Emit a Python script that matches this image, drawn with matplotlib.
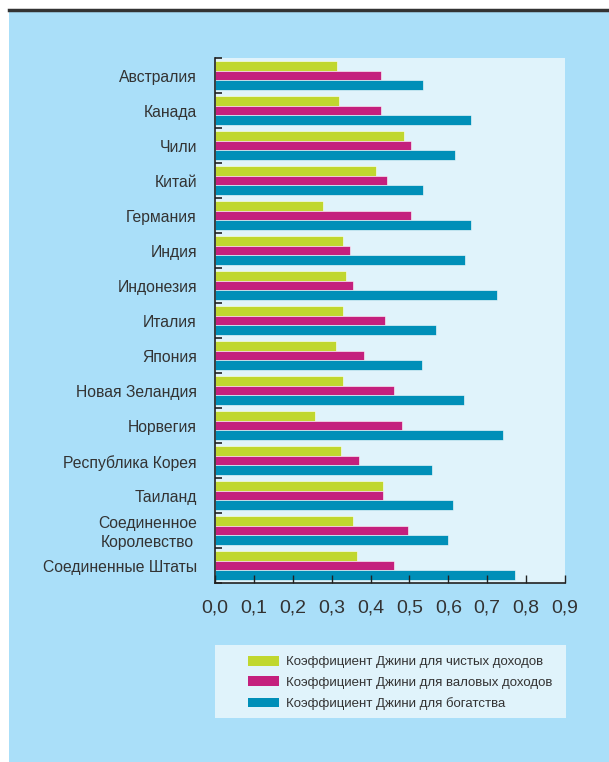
import numpy as np
import matplotlib.pyplot as plt
from matplotlib.patches import Rectangle, Patch
from matplotlib.lines import Line2D

plt.rcParams['font.family'] = ['Liberation Sans', 'DejaVu Sans']

countries = ['Австралия', 'Канада', 'Чили', 'Китай', 'Германия', 'Индия',
             'Индонезия', 'Италия', 'Япония', 'Новая Зеландия', 'Норвегия',
             'Республика Корея', 'Таиланд', 'Соединенное\nКоролевство',
             'Соединенные Штаты']
net_income = [0.314, 0.320, 0.486, 0.414, 0.278, 0.328, 0.337, 0.328, 0.310,
              0.328, 0.256, 0.324, 0.432, 0.356, 0.364]
gross_income = [0.428, 0.428, 0.505, 0.441, 0.505, 0.346, 0.356, 0.436, 0.382,
                0.460, 0.482, 0.369, 0.432, 0.496, 0.460]
wealth = [0.536, 0.658, 0.618, 0.536, 0.658, 0.644, 0.726, 0.568, 0.532,
          0.641, 0.740, 0.558, 0.612, 0.600, 0.771]
series_names = ['Коэффициент Джини для чистых доходов',
                'Коэффициент Джини для валовых доходов',
                'Коэффициент Джини для богатства']
xticks = np.arange(0, 0.91, 0.1)
xtick_labels = ['{:.1f}'.format(t).replace('.', ',') for t in xticks]

colors = ['#c0d72f', '#c4207d', '#008fb8']
outer_bg = '#aadff9'
inner_bg = '#e0f3fb'
text_col = '#333333'

fig = plt.figure(figsize=(6.09, 7.62), dpi=100)
fig.patch.set_facecolor('white')
fig.add_artist(Rectangle((9 / 609, 0), 1, 1 - 11 / 762, transform=fig.transFigure,
                         facecolor=outer_bg, edgecolor='none', zorder=-2))
fig.add_artist(Line2D([9 / 609, 1], [1 - 10 / 762, 1 - 10 / 762], transform=fig.transFigure,
                      color='#333333', lw=2.5))

ax = fig.add_axes([215 / 609, 1 - 583 / 762, 350 / 609, 525 / 762])
ax.set_facecolor(inner_bg)

y = np.arange(len(countries))
h = 0.285
for i, vals in enumerate([net_income, gross_income, wealth]):
    ax.barh(y + (i - 1) * h, vals, height=h, color=colors[i],
            edgecolor='white', linewidth=0.4, label=series_names[i])

ax.set_xlim(0, 0.9)
ax.set_ylim(len(countries) - 0.5, -0.5)
# labels sit a little below the group centre in the original
ax.set_yticks(y + 0.07)
ax.set_yticklabels(countries, fontsize=11.3, color=text_col, ha='right',
                   va='center', multialignment='center', linespacing=1.4)
ax.tick_params(axis='y', which='major', length=0, pad=13)
ax.set_yticks(np.arange(-0.5, len(countries), 1), minor=True)
ax.tick_params(axis='y', which='minor', direction='in', length=5, width=1.2, color='#222222')
ax.set_xticks(xticks)
ax.set_xticklabels(xtick_labels, fontsize=14, color=text_col)
ax.tick_params(axis='x', direction='in', length=6, width=1, color='#222222', pad=12)

for s in ['top', 'right']:
    ax.spines[s].set_visible(False)
for s in ['left', 'bottom']:
    ax.spines[s].set_color('#222222')
    ax.spines[s].set_linewidth(1.2)

handles = [Patch(facecolor=c) for c in colors]
leg_ax = fig.add_axes([215 / 609, 1 - 718 / 762, 351 / 609, 73 / 762])
leg_ax.set_facecolor(inner_bg)
leg_ax.set_xticks([])
leg_ax.set_yticks([])
for s in leg_ax.spines.values():
    s.set_visible(False)
leg = leg_ax.legend(handles, series_names, loc='center', frameon=False,
                    fontsize=9.5, handlelength=2.35, handleheight=0.76,
                    labelspacing=0.62, handletextpad=0.53, borderpad=0,
                    bbox_to_anchor=(0.528, 0.48))
for t in leg.get_texts():
    t.set_color(text_col)

fig.savefig('out.png', dpi=100, facecolor=fig.get_facecolor())
